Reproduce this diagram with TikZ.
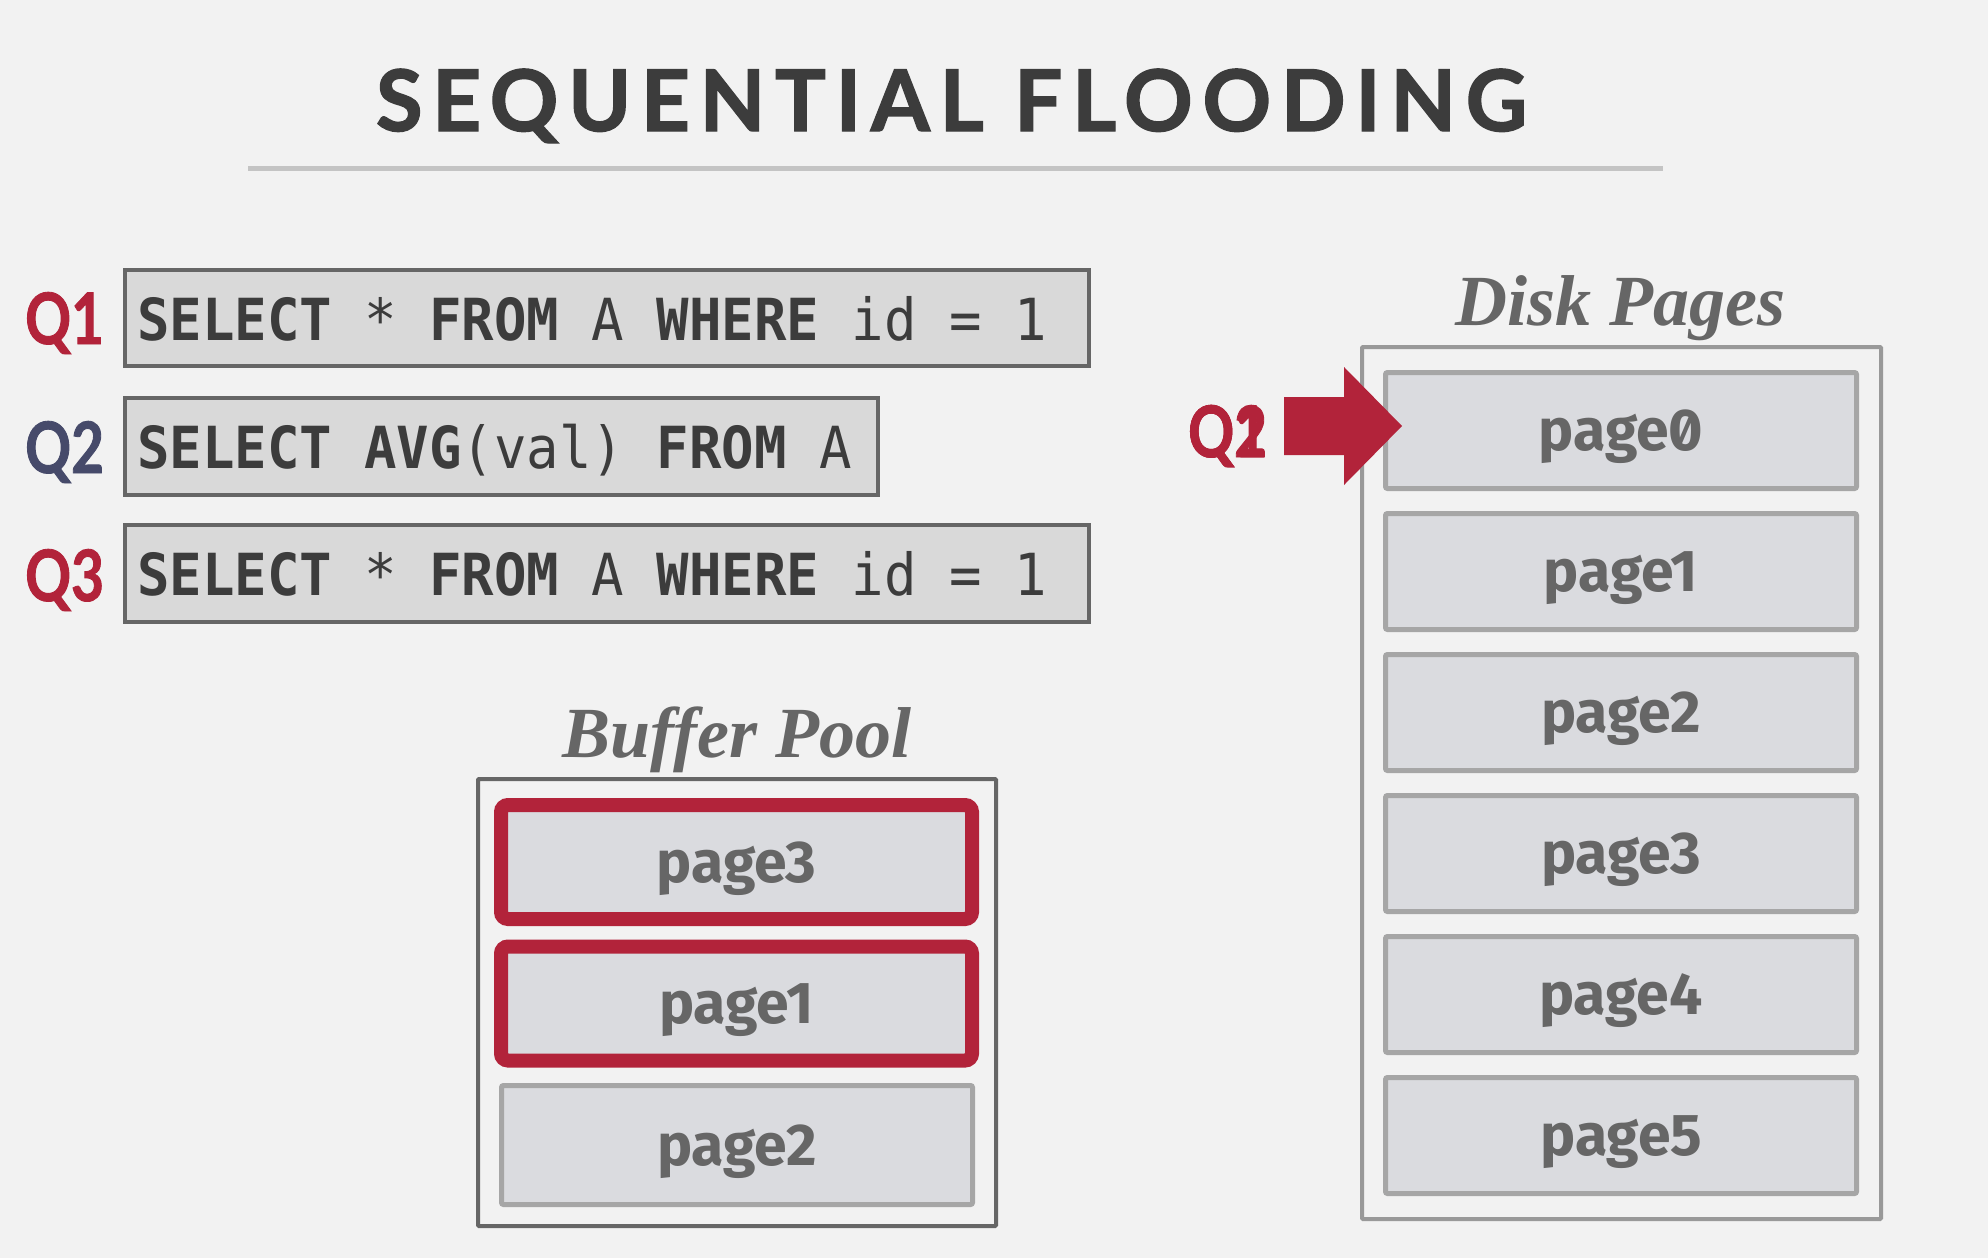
\documentclass[tikz,border=0pt]{standalone}
\usepackage{fontspec}
\newfontfamily\titlef{Lato Bold}[LetterSpace=11.5, FakeBold=1.6]
\newfontfamily\qf{Lato Bold}[FakeStretch=0.8, FakeBold=1.2]
\newfontfamily\codef{DejaVu Sans Mono}[FakeStretch=0.93]
\newfontfamily\pagef{Fira Sans}[RawFeature=+zero]
\newfontfamily\headf{Liberation Serif}
\definecolor{bg}{HTML}{F2F2F2}
\definecolor{titlec}{HTML}{3C3C3C}
\definecolor{rulec}{HTML}{C4C4C4}
\definecolor{redc}{HTML}{B2233A}
\definecolor{navyc}{HTML}{464A6A}
\definecolor{qborder}{HTML}{666666}
\definecolor{qfill}{HTML}{D9D9D9}
\definecolor{pfill}{HTML}{DADBDF}
\definecolor{pborder}{HTML}{A6A6A6}
\definecolor{dborder}{HTML}{999999}
\definecolor{txtgray}{HTML}{666666}
\tikzset{
  qbox/.style={draw=qborder, fill=qfill, line width=4.5pt, minimum height=97pt, inner sep=0pt},
  codetxt/.style={anchor=base west, inner sep=0pt, text=titlec, font=\codef\fontsize{58}{60}\selectfont},
  qlab/.style={anchor=base west, inner sep=0pt, font=\qf\fontsize{71}{80}\selectfont},
  pagebox/.style={draw=pborder, fill=pfill, line width=5pt, minimum width=471pt, minimum height=116pt, rounded corners=2pt, inner sep=0pt},
  hotbox/.style={draw=redc, fill=pfill, line width=14pt, minimum width=471pt, minimum height=114pt, rounded corners=7pt, inner sep=0pt},
  pagetxt/.style={anchor=base, inner sep=0pt, text=txtgray, font=\pagef\bfseries\fontsize{59}{60}\selectfont},
  headtxt/.style={anchor=base, inner sep=0pt, text=txtgray, font=\headf\bfseries\itshape\fontsize{72}{80}\selectfont},
  container/.style={line width=4pt, inner sep=0pt, rounded corners=1pt},
}
\begin{document}
\begin{tikzpicture}[x=1pt,y=-1pt]
\fill[bg] (0,0) rectangle (1988,1258);
\useasboundingbox (0,0) rectangle (1988,1258);
% title
\node[anchor=base, inner sep=0pt, text=titlec, font=\titlef\fontsize{85}{90}\selectfont] (title) at (951.5,131) {SEQUENTIAL FLOODING};
\draw[rulec, line width=5pt] (248,168) -- (1663,168);
% queries
\node[qbox, minimum width=964pt, minimum height=96pt] (q1box) at (607,318) {};
\node[qbox, minimum width=753pt] (q2box) at (501.5,446.5) {};
\node[qbox, minimum width=964pt] (q3box) at (607,573.5) {};
\node[codetxt] (q1code) at (137,340) {{\bfseries SELECT} * {\bfseries FROM} A {\bfseries WHERE} id = 1};
\node[codetxt] (q2code) at (137,468) {{\bfseries SELECT} {\bfseries AVG}(val) {\bfseries FROM} A};
\node[codetxt] (q3code) at (137,595) {{\bfseries SELECT} * {\bfseries FROM} A {\bfseries WHERE} id = 1};
\node[qlab, text=redc] (q1lab) at (25,344) {Q1};
\node[qlab, text=navyc] (q2lab) at (25,473) {Q2};
\node[qlab, text=redc] (q3lab) at (25,601) {Q3};
% buffer pool
\node[headtxt] (bphead) at (737,757) {Buffer Pool};
\node[container, draw=qborder, minimum width=518pt, minimum height=447pt] (bp) at (737,1002.5) {};
\node[hotbox] (bp3) at (736.5,862) {};
\node[pagetxt] at (736.5,882) {page3};
\node[hotbox] (bp1) at (736.5,1003.5) {};
\node[pagetxt] at (736.5,1023.5) {page1};
\node[pagebox, minimum height=119pt] (bp2) at (737,1145) {};
\node[pagetxt] at (737,1165) {page2};
% disk pages
\node[headtxt] (dphead) at (1620,325) {Disk Pages};
\node[container, draw=dborder, minimum width=519pt, minimum height=872pt] (disk) at (1621.5,783) {};
\foreach \i in {0,...,5} {
  \node[pagebox] (dp\i) at (1621,430.5+141*\i) {};
  \node[pagetxt] (dpt\i) at (1621,450.5+141*\i) {page\i};
}
% cursor
\node[qlab, text=redc] (curq1) at (1188,457) {Q1};
\node[qlab, text=redc] (curq2) at (1188,457) {Q2};
\fill[redc] (1284,397) -- (1344,397) -- (1344,367) -- (1402,426) -- (1344,485) -- (1344,455) -- (1284,455) -- cycle;
\end{tikzpicture}
\end{document}
